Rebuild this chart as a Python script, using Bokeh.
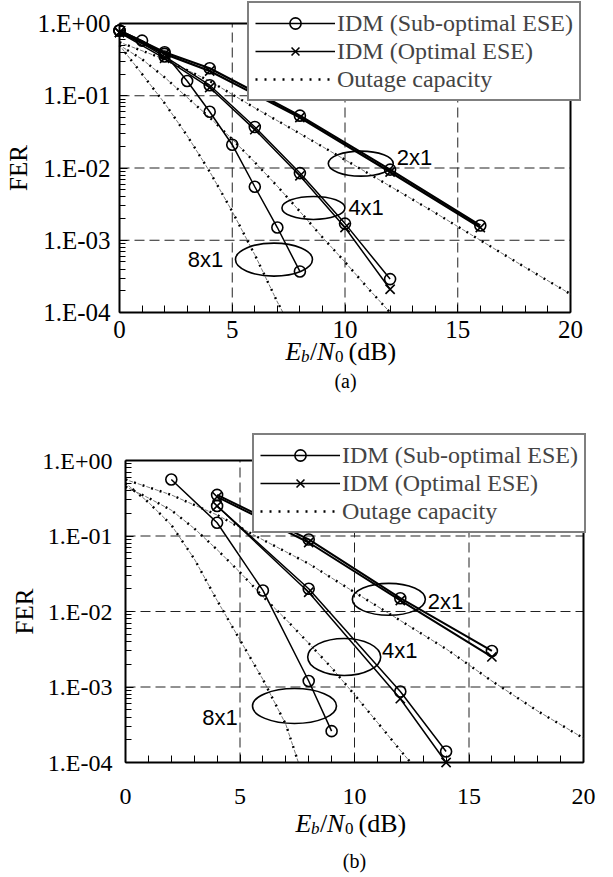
from bokeh.plotting import figure
from bokeh.models import (Legend, LegendItem, Label, FixedTicker, SingleIntervalTicker,
                          CustomJSTickFormatter, Range1d)
from bokeh.core.properties import value
from bokeh.embed import file_html
from bokeh.resources import INLINE

# ---------------- data: panel (a) ----------------
a_snr_2x1 = [0, 2, 4, 8, 12, 16]
a_fer_2x1_sub = [0.80, 0.40, 0.24, 0.053, 0.0095, 0.0016]
a_fer_2x1_opt = [0.75, 0.38, 0.22, 0.050, 0.0088, 0.0015]
a_snr_4x1 = [0, 2, 4, 6, 8, 10, 12]
a_fer_4x1_sub = [0.80, 0.35, 0.14, 0.037, 0.0085, 0.0017, 0.00029]
a_fer_4x1_opt = [0.75, 0.33, 0.13, 0.034, 0.0078, 0.0015, 0.00021]
a_snr_8x1 = [0, 1, 2, 3, 4, 5, 6, 7, 8]
a_fer_8x1_sub = [0.80, 0.58, 0.38, 0.16, 0.060, 0.021, 0.0055, 0.0015, 0.00037]

a_out_snr_2x1 = [0, 2, 4, 6, 8, 10, 12, 14, 16, 18, 20]
a_out_fer_2x1 = [0.55, 0.32, 0.16, 0.068, 0.030, 0.013, 0.0056, 0.0024, 0.0010, 0.00042, 0.00018]
a_out_snr_4x1 = [0, 1, 2, 3, 4, 5, 6, 7, 8, 9, 10, 11, 12]
a_out_fer_4x1 = [0.50, 0.32, 0.18, 0.095, 0.050, 0.025, 0.012, 0.0056, 0.0025, 0.0011, 0.0005, 0.00022, 0.0001]
a_out_snr_8x1 = [0, 1, 2, 3, 4, 5, 6, 7, 7.25]
a_out_fer_8x1 = [0.50, 0.20, 0.079, 0.028, 0.0089, 0.0025, 0.00063, 0.00014, 0.0001]

# ---------------- data: panel (b) ----------------
b_snr_2x1 = [4, 8, 12, 16]
b_fer_2x1_sub = [0.35, 0.090, 0.015, 0.0030]
b_fer_2x1_opt = [0.33, 0.082, 0.014, 0.0025]
b_snr_4x1 = [4, 8, 12, 14]
b_fer_4x1_sub = [0.25, 0.020, 0.00087, 0.00014]
b_fer_4x1_opt = [0.25, 0.018, 0.00070, 0.00010]
b_snr_8x1 = [2, 4, 6, 8, 9]
b_fer_8x1_sub = [0.56, 0.15, 0.019, 0.0012, 0.00026]

b_out_snr_2x1 = [0, 2, 4, 6, 8, 10, 12, 14, 16, 18, 20]
b_out_fer_2x1 = [0.56, 0.35, 0.19, 0.089, 0.043, 0.018, 0.0076, 0.0032, 0.0012, 0.00048, 0.00021]
b_out_snr_4x1 = [0, 1, 2, 3, 4, 5, 6, 7, 8, 9, 10, 11, 12, 12.45]
b_out_fer_4x1 = [0.45, 0.32, 0.22, 0.126, 0.066, 0.033, 0.0158, 0.0079, 0.0038, 0.0018, 0.00079, 0.00034, 0.000145, 0.0001]
b_out_snr_8x1 = [0, 1, 2, 3, 4, 5, 6, 7, 7.55]
b_out_fer_8x1 = [0.50, 0.28, 0.14, 0.050, 0.014, 0.0042, 0.00126, 0.00032, 0.0001]

# ellipse annotations (center snr, center fer) and labels
a_ell_snr = [10.7, 8.6, 6.85]
a_ell_fer = [0.0115, 0.0028, 0.00054]
a_lab_snr = [12.3, 10.15, 4.6]
a_lab_fer = [0.0138, 0.0028, 0.00054]
b_ell_snr = [11.5, 9.55, 7.38]
b_ell_fer = [0.0145, 0.0025, 0.00056]
b_lab_snr = [13.2, 11.2, 4.9]
b_lab_fer = [0.0135, 0.0030, 0.00040]
ant_labels = ["2x1", "4x1", "8x1"]

x_lo, x_hi = 0, 20
x_tick_interval = 5
x_grid_values = [5, 10, 15]
y_tick_values = [1e-4, 1e-3, 1e-2, 1e-1, 1.0]
y_tick_labels = ["1.E-04", "1.E-03", "1.E-02", "1.E-01", "1.E+00"]
legend_labels = ["IDM (Sub-optimal ESE)", "IDM (Optimal ESE)", "Outage capacity"]
x_title_parts = ["E", "b", "/", "N", "0", "(dB)"]

SERIF = "Liberation Serif"
SANS = "Liberation Sans"
W = 605


def make_panel(d, H, box, tick_fs, xstand, ystand, ylab_stand, legend_loc,
               ell_sizes, title_xy, caption, cap_xy):
    # box = (left, right, top, bottom) of the plotting box in figure pixels
    L, R, T, B = box
    ppu = (R - L) / (x_hi - x_lo)
    ppd = (B - T) / 4.0
    xr = Range1d(x_lo - L / ppu, x_hi + (W - R) / ppu)
    yr = Range1d(10 ** (-4 - (H - B) / ppd), 10 ** (0 + T / ppd))
    p = figure(frame_width=W, frame_height=H, y_axis_type="log",
               x_range=xr, y_range=yr, output_backend="svg",
               toolbar_location=None, min_border=0)
    p.title.visible = False
    p.background_fill_color = "white"
    p.border_fill_color = "white"
    p.outline_line_color = None
    p.xgrid.visible = False
    p.ygrid.visible = False

    y_lo, y_hi = y_tick_values[0], y_tick_values[-1]
    # dashed grid limited to the box
    p.segment(x0=x_grid_values, y0=[y_lo] * 3, x1=x_grid_values, y1=[y_hi] * 3,
              line_color="#222222", line_width=1, line_dash="10 5")
    p.segment(x0=[x_lo] * 3, y0=y_tick_values[1:-1], x1=[x_hi] * 3,
              y1=y_tick_values[1:-1], line_color="#222222", line_width=1,
              line_dash="10 5")

    # axes pinned to the box edges
    p.xaxis.fixed_location = y_lo
    p.yaxis.fixed_location = x_lo
    p.xaxis.bounds = (x_lo, x_hi)
    p.yaxis.bounds = (y_lo, y_hi)
    p.xaxis.ticker = SingleIntervalTicker(interval=x_tick_interval, num_minor_ticks=5)
    minor = [m * 10.0 ** e for e in range(-4, 0) for m in range(2, 10)]
    p.yaxis.ticker = FixedTicker(ticks=y_tick_values, minor_ticks=minor)
    p.yaxis.formatter = CustomJSTickFormatter(
        args=dict(vals=y_tick_values, labs=y_tick_labels),
        code="""
        let best = 0, bd = 1e9;
        for (let i = 0; i < vals.length; i++) {
          const dd = Math.abs(Math.log10(vals[i]) - Math.log10(tick));
          if (dd < bd) { bd = dd; best = i; }
        }
        return labs[best];
        """)
    for ax in (p.xaxis, p.yaxis):
        ax.axis_line_width = 2
        ax.axis_line_color = "black"
        ax.major_tick_in = 8
        ax.major_tick_out = 0
        ax.minor_tick_in = 7
        ax.minor_tick_out = 0
        ax.major_tick_line_color = "black"
        ax.minor_tick_line_color = "black"
        ax.major_label_text_font = SERIF
        ax.major_label_text_font_size = tick_fs
        ax.major_label_text_color = "black"
    p.yaxis.minor_tick_in = 6
    p.yaxis.major_label_standoff = ystand
    p.xaxis.major_label_standoff = xstand
    p.yaxis.axis_label = "FER"
    p.yaxis.axis_label_text_font = SERIF
    p.yaxis.axis_label_text_font_size = "25px"
    p.yaxis.axis_label_text_font_style = "normal"
    p.yaxis.axis_label_text_color = "black"
    p.yaxis.axis_label_standoff = ylab_stand

    # top and right edges of the box
    p.segment(x0=[x_lo, x_hi], y0=[y_hi, y_lo], x1=[x_hi, x_hi], y1=[y_hi, y_hi],
              line_color="black", line_width=2)

    # outage capacity curves: thick dots + thin dashes
    out_rs = []
    for xs, ys in d["out"]:
        r = p.line(xs, ys, line_color="black", line_width=2.4, line_dash="2 7")
        p.line(xs, ys, line_color="#555555", line_width=0.8, line_dash="4 5",
               line_dash_offset=5)
        out_rs.append(r)

    # IDM curves
    leg_sub = leg_opt = None
    for xs, ys, kind, lw in d["idm"]:
        lr = p.line(xs, ys, line_color="black", line_width=lw)
        if kind == "sub":
            sr = p.scatter(xs, ys, marker="circle", size=11, fill_color=None,
                           line_color="black", line_width=1.6)
            if leg_sub is None and lw < 2:
                leg_sub = [lr, sr]
        else:
            sr = p.scatter(xs, ys, marker="x", size=13, line_color="black",
                           line_width=1.6)
            if leg_opt is None and lw < 2:
                leg_opt = [lr, sr]

    # ellipses + antenna labels
    p.ellipse(x=d["ell_x"], y=d["ell_y"], width=[s[0] for s in ell_sizes],
              height=[s[1] for s in ell_sizes], width_units="screen",
              height_units="screen", fill_color=None, line_color="black",
              line_width=1.6)
    p.text(x=d["lab_x"][:2], y=d["lab_y"][:2], text=ant_labels[:2],
           text_font=value(SANS), text_font_size="22px", text_align="left",
           text_baseline="middle", text_color="black")
    p.text(x=d["lab_x"][2:], y=d["lab_y"][2:], text=ant_labels[2:],
           text_font=value(SANS), text_font_size="22px", text_align="right",
           text_baseline="middle", text_color="black")

    # legend (location = bottom-left corner from frame bottom-left)
    legend = Legend(items=[LegendItem(label=legend_labels[0], renderers=leg_sub),
                           LegendItem(label=legend_labels[1], renderers=leg_opt),
                           LegendItem(label=legend_labels[2], renderers=[out_rs[0]])],
                    location=legend_loc, label_text_font=SERIF,
                    label_text_font_size="24px", glyph_width=80, glyph_height=28,
                    label_height=20, label_standoff=2, spacing=-5, padding=6,
                    margin=0, border_line_color="black", border_line_width=2,
                    background_fill_alpha=1, background_fill_color="white")
    p.add_layout(legend, "center")

    # x-axis title  E_b/N_0 (dB)
    tx, ty = title_xy
    big, small = "26px", "17px"
    specs = [(0, 0, big, "italic"), (15.5, -5, small, "italic"),
             (24.5, 0, big, "normal"), (31.5, 0, big, "italic"),
             (49.5, -5, small, "normal"), (63, 0, big, "normal")]
    for part, (dx, dy, fs, st) in zip(x_title_parts, specs):
        p.add_layout(Label(x=tx + dx, y=ty + dy, x_units="screen", y_units="screen",
                           text=part, text_font=SERIF, text_font_size=fs,
                           text_font_style=st, text_align="left",
                           text_baseline="middle", text_color="black"))
    p.add_layout(Label(x=cap_xy[0], y=cap_xy[1], x_units="screen", y_units="screen",
                       text=caption, text_font=SERIF, text_font_size="20px",
                       text_align="center", text_baseline="middle",
                       text_color="black"))
    return p


da = dict(
    out=[(a_out_snr_2x1, a_out_fer_2x1), (a_out_snr_4x1, a_out_fer_4x1),
         (a_out_snr_8x1, a_out_fer_8x1)],
    idm=[(a_snr_2x1, a_fer_2x1_sub, "sub", 2.2), (a_snr_2x1, a_fer_2x1_opt, "opt", 2.2),
         (a_snr_4x1, a_fer_4x1_sub, "sub", 1.5), (a_snr_4x1, a_fer_4x1_opt, "opt", 1.5),
         (a_snr_8x1, a_fer_8x1_sub, "sub", 1.5)],
    ell_x=a_ell_snr, ell_y=a_ell_fer, lab_x=a_lab_snr, lab_y=a_lab_fer)
db = dict(
    out=[(b_out_snr_2x1, b_out_fer_2x1), (b_out_snr_4x1, b_out_fer_4x1),
         (b_out_snr_8x1, b_out_fer_8x1)],
    idm=[(b_snr_2x1, b_fer_2x1_sub, "sub", 2.0), (b_snr_2x1, b_fer_2x1_opt, "opt", 2.0),
         (b_snr_4x1, b_fer_4x1_sub, "sub", 1.5), (b_snr_4x1, b_fer_4x1_opt, "opt", 1.5),
         (b_snr_8x1, b_fer_8x1_sub, "sub", 1.5)],
    ell_x=b_ell_snr, ell_y=b_ell_fer, lab_x=b_lab_snr, lab_y=b_lab_fer)

H1, H2 = 420, 457
p1 = make_panel(da, H1, (119, 570, 23, 312), "25px", 8, 9, 2, (247, H1 - 101),
                [(65, 25), (63, 23), (77, 33)], (285, H1 - 351), "(a)",
                (345, H1 - 380))
p2 = make_panel(db, H2, (125, 583, 40, 342), "24px", 26, 13, 1, (252, H2 - 113),
                [(73, 32), (73, 37), (84, 35)], (295, H2 - 403), "(b)",
                (354, H2 - 440))

open("out.html", "w").write(file_html([p1, p2], INLINE))
